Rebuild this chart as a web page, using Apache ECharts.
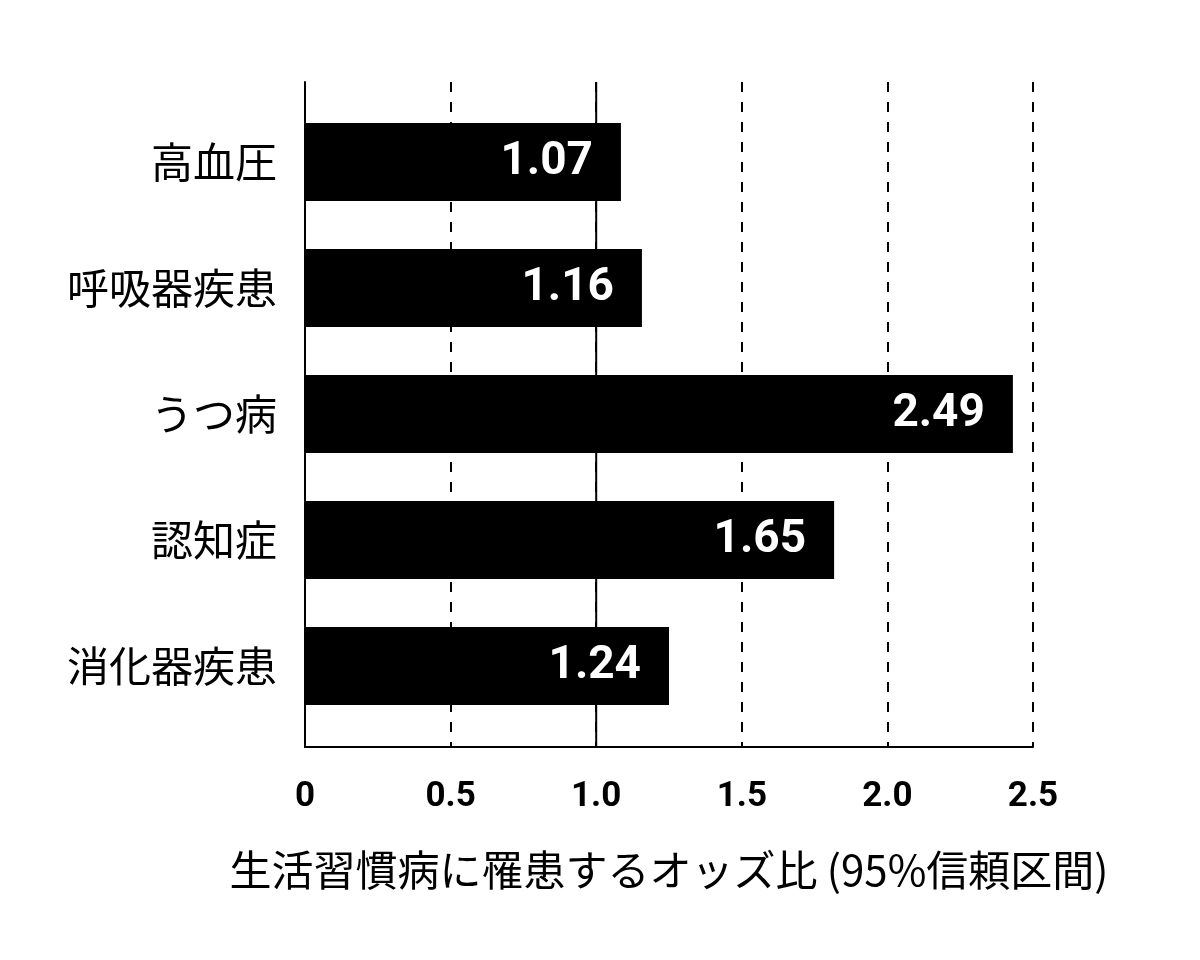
<!DOCTYPE html>
<html>
<head>
<meta charset="utf-8">
<script src="https://cdn.jsdelivr.net/npm/echarts@6/dist/echarts.min.js"></script>
<style>html,body{margin:0;padding:0;background:#fff;}#c{width:1200px;height:960px;}</style>
</head>
<body>
<div id="c"></div>
<script>
// Data
const categories = ['高血圧', '呼吸器疾患', 'うつ病', '認知症', '消化器疾患'];
const barValues = [1.085, 1.157, 2.431, 1.817, 1.25];
const barLabels = ['1.07', '1.16', '2.49', '1.65', '1.24'];
const solidRefLines = [1.0];
const axisMin = 0, axisMax = 2.5, axisStep = 0.5;
const axisTitle = '生活習慣病に罹患するオッズ比 (95%信頼区間)';

const numFont = "Roboto, 'Liberation Sans', sans-serif";
const cjkFont = "'Noto Sans CJK JP', 'Noto Sans', sans-serif";

const chart = echarts.init(document.getElementById('c'), null, {renderer: 'canvas'});
chart.setOption({
  backgroundColor: '#ffffff',
  animation: false,
  grid: [
    {left: 305, right: 167, top: 82, bottom: 213},
    {left: 305, right: 167, top: 99, bottom: 231}
  ],
  xAxis: [
    {
      gridIndex: 0, type: 'value', min: axisMin, max: axisMax, interval: axisStep,
      axisLine: {show: true, lineStyle: {color: '#000', width: 2}},
      axisTick: {show: false},
      axisLabel: {
        margin: 33, color: '#000', fontSize: 35, fontWeight: 'bold', fontFamily: numFont,
        formatter: v => v === 0 ? '0' : v.toFixed(1)
      },
      splitLine: {show: true, lineStyle: {color: '#000', width: 2, type: [10, 10]}},
      name: axisTitle, nameLocation: 'middle', nameGap: 123,
      nameTextStyle: {color: '#000', fontSize: 42, fontFamily: cjkFont, verticalAlign: 'middle'}
    },
    {
      gridIndex: 1, type: 'value', min: axisMin, max: axisMax, interval: axisStep,
      axisLine: {show: false}, axisTick: {show: false}, axisLabel: {show: false}, splitLine: {show: false}
    }
  ],
  yAxis: [
    {
      gridIndex: 0, type: 'value', min: 0, max: 1,
      axisLine: {show: true, onZero: false, lineStyle: {color: '#000', width: 2}},
      axisTick: {show: false}, axisLabel: {show: false}, splitLine: {show: false}
    },
    {
      gridIndex: 1, type: 'category', data: categories, inverse: true,
      axisLine: {show: false}, axisTick: {show: false},
      axisLabel: {margin: 28, color: '#000', fontSize: 42, fontFamily: cjkFont}
    }
  ],
  series: [
    ...solidRefLines.map(v => ({
      type: 'line', xAxisIndex: 0, yAxisIndex: 0, symbol: 'none', silent: true,
      lineStyle: {color: '#000', width: 2, type: 'solid'},
      data: [[v, 0], [v, 1]], z: 3
    })),
    {
      type: 'bar', xAxisIndex: 1, yAxisIndex: 1, barWidth: 78, z: 5,
      itemStyle: {color: '#000'},
      data: barValues,
      label: {
        show: true, position: 'insideRight', distance: 28,
        color: '#fff', fontSize: 46, fontWeight: 'bold', fontFamily: numFont,
        formatter: p => barLabels[p.dataIndex]
      }
    }
  ]
});
</script>
</body>
</html>
